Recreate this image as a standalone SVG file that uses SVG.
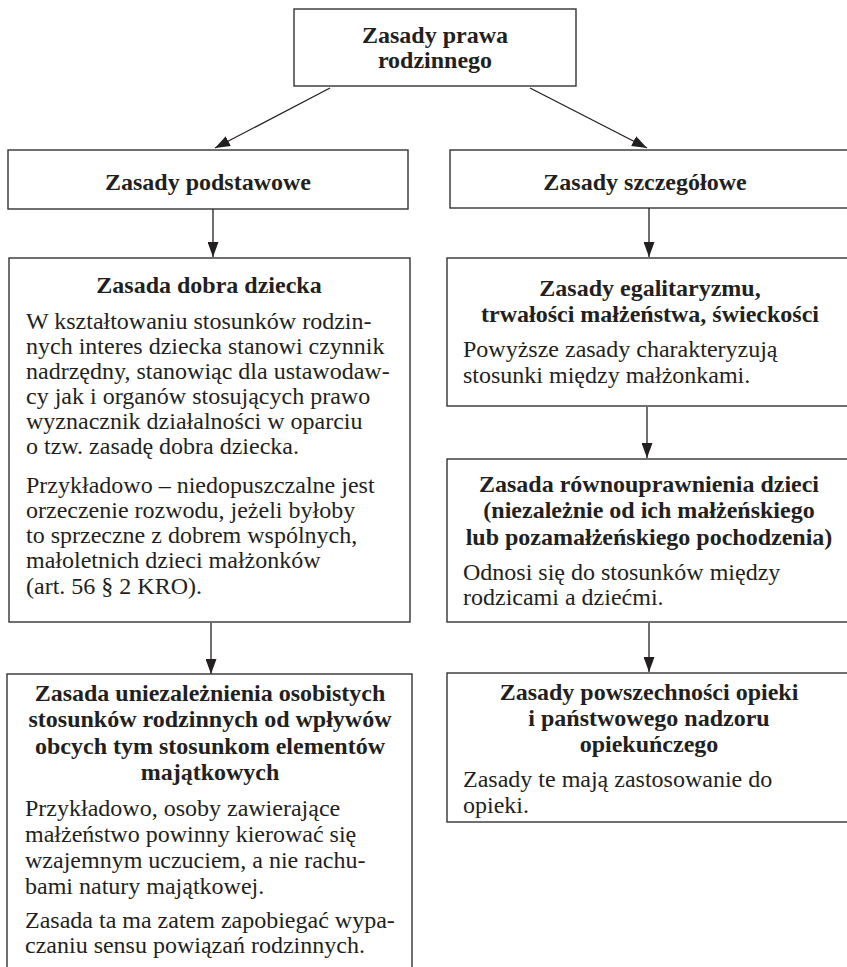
<svg xmlns="http://www.w3.org/2000/svg" width="847" height="967" viewBox="0 0 847 967">
<style>
.box{fill:#fff;stroke:#333;stroke-width:1.4}
.t{font-family:"Liberation Serif","Times New Roman",serif;font-size:24px;font-weight:bold;fill:#231f20;text-anchor:middle}
.b{font-family:"Liberation Serif","Times New Roman",serif;font-size:24px;fill:#231f20}
.c{stroke:#231f20;stroke-width:1.3;fill:none;marker-end:url(#ah)}
</style>
<defs>
<marker id="ah" markerUnits="userSpaceOnUse" markerWidth="15" markerHeight="11" refX="15" refY="5.5" orient="auto">
<path d="M0,0 L15,5.5 L0,11 z" fill="#231f20"/>
</marker>
</defs>
<rect width="847" height="967" fill="#fff"/>
<g id="connectors">
<line class="c" x1="330" y1="88" x2="215" y2="148"/>
<line class="c" x1="530" y1="88" x2="647" y2="148"/>
<line class="c" x1="213" y1="209" x2="213" y2="257"/>
<line class="c" x1="649" y1="208" x2="649" y2="257"/>
<line class="c" x1="647" y1="407" x2="647" y2="458"/>
<line class="c" x1="649" y1="623" x2="649" y2="672"/>
<line class="c" x1="211" y1="623" x2="211" y2="674"/>
</g>
<g id="root">
<rect class="box" x="294" y="9" width="282" height="77"/>
<text class="t" x="435" y="43">Zasady prawa</text>
<text class="t" x="435" y="68">rodzinnego</text>
</g>
<g id="podstawowe">
<rect class="box" x="8" y="150" width="400" height="59"/>
<text class="t" x="208" y="190">Zasady podstawowe</text>
</g>
<g id="szczegolowe">
<rect class="box" x="450" y="150" width="410" height="58"/>
<text class="t" x="645" y="190">Zasady szczegółowe</text>
</g>
<g id="dobro-dziecka">
<rect class="box" x="9" y="258" width="401" height="364"/>
<text class="t" x="209" y="293">Zasada dobra dziecka</text>
<text class="b" x="26" y="329">W kształtowaniu stosunków rodzin-</text>
<text class="b" x="26" y="354">nych interes dziecka stanowi czynnik</text>
<text class="b" x="26" y="379">nadrzędny, stanowiąc dla ustawodaw-</text>
<text class="b" x="26" y="404">cy jak i organów stosujących prawo</text>
<text class="b" x="26" y="429">wyznacznik działalności w oparciu</text>
<text class="b" x="26" y="454">o tzw. zasadę dobra dziecka.</text>
<text class="b" x="26" y="493">Przykładowo – niedopuszczalne jest</text>
<text class="b" x="26" y="518">orzeczenie rozwodu, jeżeli byłoby</text>
<text class="b" x="26" y="543">to sprzeczne z dobrem wspólnych,</text>
<text class="b" x="26" y="568">małoletnich dzieci małżonków</text>
<text class="b" x="26" y="594">(art. 56 § 2 KRO).</text>
</g>
<g id="egalitaryzm">
<rect class="box" x="447" y="258" width="413" height="148"/>
<text class="t" x="650" y="296">Zasady egalitaryzmu,</text>
<text class="t" x="650" y="322">trwałości małżeństwa, świeckości</text>
<text class="b" x="463" y="357">Powyższe zasady charakteryzują</text>
<text class="b" x="463" y="383">stosunki między małżonkami.</text>
</g>
<g id="rownouprawnienie">
<rect class="box" x="447" y="459" width="413" height="163"/>
<text class="t" x="649" y="492">Zasada równouprawnienia dzieci</text>
<text class="t" x="649" y="518">(niezależnie od ich małżeńskiego</text>
<text class="t" x="649" y="545">lub pozamałżeńskiego pochodzenia)</text>
<text class="b" x="463" y="580">Odnosi się do stosunków między</text>
<text class="b" x="463" y="605">rodzicami a dziećmi.</text>
</g>
<g id="opieka">
<rect class="box" x="447" y="673" width="413" height="149"/>
<text class="t" x="649" y="700">Zasady powszechności opieki</text>
<text class="t" x="649" y="726">i państwowego nadzoru</text>
<text class="t" x="649" y="752">opiekuńczego</text>
<text class="b" x="463" y="787">Zasady te mają zastosowanie do</text>
<text class="b" x="463" y="813">opieki.</text>
</g>
<g id="uniezaleznienie">
<rect class="box" x="7" y="674" width="405" height="310"/>
<text class="t" x="210" y="701">Zasada uniezależnienia osobistych</text>
<text class="t" x="210" y="727">stosunków rodzinnych od wpływów</text>
<text class="t" x="210" y="754">obcych tym stosunkom elementów</text>
<text class="t" x="210" y="780">majątkowych</text>
<text class="b" x="25" y="816">Przykładowo, osoby zawierające</text>
<text class="b" x="25" y="842">małżeństwo powinny kierować się</text>
<text class="b" x="25" y="868">wzajemnym uczuciem, a nie rachu-</text>
<text class="b" x="25" y="894">bami natury majątkowej.</text>
<text class="b" x="25" y="928">Zasada ta ma zatem zapobiegać wypa-</text>
<text class="b" x="25" y="953">czaniu sensu powiązań rodzinnych.</text>
</g>
</svg>
